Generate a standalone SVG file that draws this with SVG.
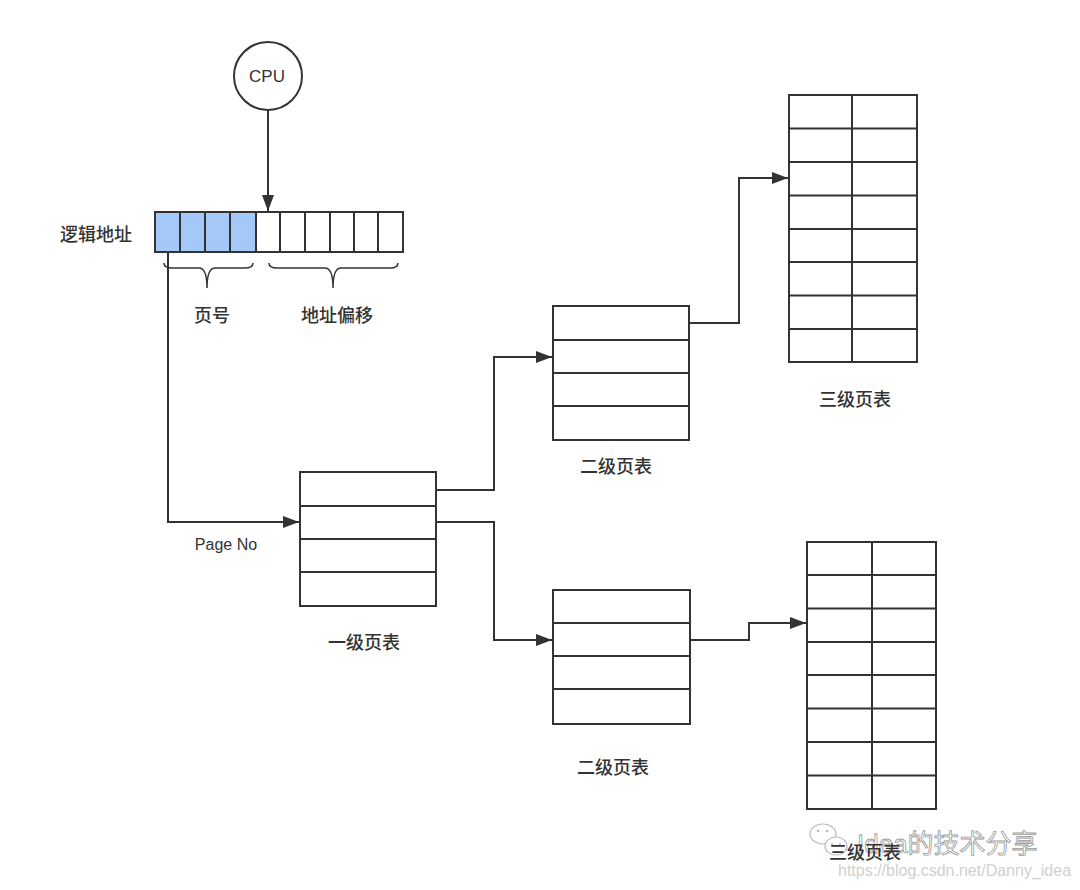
<svg xmlns="http://www.w3.org/2000/svg" width="1080" height="890" viewBox="0 0 1080 890">
<style>
.ln{fill:none;stroke:#333;stroke-width:2}
.cell{fill:#fff;stroke:#333;stroke-width:2}
.blue{fill:#a4c9f8;stroke:#333;stroke-width:2}
.lbl{font-family:"Noto Sans CJK SC","Liberation Sans",sans-serif;font-size:18px;font-weight:500;fill:#333;text-anchor:middle}
.en{font-family:"Liberation Sans",Arial,sans-serif;fill:#333;text-anchor:middle}
</style>
<defs>
<marker id="arr2" viewBox="0 0 16 12" refX="16" refY="6" markerWidth="16" markerHeight="12" markerUnits="userSpaceOnUse" orient="auto">
<path d="M0,0 L16,6 L0,12 z" fill="#333"/>
</marker>
</defs>
<rect width="1080" height="890" fill="#fff"/>

<g id="cpu">
<circle cx="268" cy="76" r="34" fill="#fff" stroke="#333" stroke-width="2"/>
<text class="en" x="267" y="82" font-size="17">CPU</text>
</g>

<g id="logical-address">
<text class="lbl" x="96" y="241">逻辑地址</text>
<rect class="blue" x="155" y="212" width="25" height="40"/>
<rect class="blue" x="180" y="212" width="25" height="40"/>
<rect class="blue" x="205" y="212" width="25" height="40"/>
<rect class="blue" x="230" y="212" width="26" height="40"/>
<rect class="cell" x="256" y="212" width="24" height="40"/>
<rect class="cell" x="280" y="212" width="25" height="40"/>
<rect class="cell" x="305" y="212" width="25" height="40"/>
<rect class="cell" x="330" y="212" width="24" height="40"/>
<rect class="cell" x="354" y="212" width="24" height="40"/>
<rect class="cell" x="378" y="212" width="25" height="40"/>
</g>

<g id="brace-page">
<path d="M164,263 Q164,268 172,268 L199,268 Q207,268 207,288 Q207,268 215,268 L245,268 Q253,268 253,263" fill="none" stroke="#333" stroke-width="1.5"/>
<text class="lbl" x="212" y="322">页号</text>
</g>

<g id="brace-offset">
<path d="M269,263 Q269,268 277,268 L325,268 Q333,268 333,288 Q333,268 341,268 L390,268 Q398,268 398,263" fill="none" stroke="#333" stroke-width="1.5"/>
<text class="lbl" x="337" y="322">地址偏移</text>
</g>

<g id="table-l1">
<rect class="cell" x="300" y="472" width="136" height="134"/>
<line class="ln" x1="300" y1="506" x2="436" y2="506"/>
<line class="ln" x1="300" y1="539" x2="436" y2="539"/>
<line class="ln" x1="300" y1="572" x2="436" y2="572" stroke-width="2.5"/>
<text class="lbl" x="364" y="649">一级页表</text>
</g>

<g id="table-l2-top">
<rect class="cell" x="553" y="306" width="136" height="134"/>
<line class="ln" x1="553" y1="340" x2="689" y2="340"/>
<line class="ln" x1="553" y1="373" x2="689" y2="373"/>
<line class="ln" x1="553" y1="406" x2="689" y2="406" stroke-width="2.5"/>
<text class="lbl" x="616" y="473">二级页表</text>
</g>

<g id="table-l2-bottom">
<rect class="cell" x="553" y="590" width="137" height="134"/>
<line class="ln" x1="553" y1="623" x2="690" y2="623"/>
<line class="ln" x1="553" y1="656" x2="690" y2="656"/>
<line class="ln" x1="553" y1="689" x2="690" y2="689" stroke-width="2.5"/>
<text class="lbl" x="613" y="774">二级页表</text>
</g>

<g id="table-l3-top">
<rect class="cell" x="789" y="95" width="128" height="267"/>
<line class="ln" x1="852" y1="95" x2="852" y2="362"/>
<line class="ln" x1="789" y1="128.5" x2="917" y2="128.5"/>
<line class="ln" x1="789" y1="162" x2="917" y2="162"/>
<line class="ln" x1="789" y1="195.5" x2="917" y2="195.5" stroke-width="2.5"/>
<line class="ln" x1="789" y1="229" x2="917" y2="229"/>
<line class="ln" x1="789" y1="262" x2="917" y2="262"/>
<line class="ln" x1="789" y1="295.5" x2="917" y2="295.5"/>
<line class="ln" x1="789" y1="329" x2="917" y2="329" stroke-width="2.5"/>
<text class="lbl" x="855" y="406">三级页表</text>
</g>

<g id="watermark">
<ellipse cx="823" cy="834" rx="13" ry="10" fill="#fff" stroke="#bbb" stroke-width="1.2"/>
<ellipse cx="836" cy="846" rx="11" ry="9" fill="#fff" stroke="#bbb" stroke-width="1.2"/>
<circle cx="818" cy="831" r="1.3" fill="#bbb"/>
<circle cx="827" cy="831" r="1.3" fill="#bbb"/>
<circle cx="832" cy="844" r="1.1" fill="#bbb"/>
<circle cx="840" cy="844" r="1.1" fill="#bbb"/>
<text x="857" y="853" font-family="'Liberation Sans','Noto Sans CJK SC',sans-serif" font-size="26" fill="#fff" stroke="#999" stroke-width="0.8">Idea的技术分享</text>
<text x="838" y="876" font-family="'Liberation Sans',Arial,sans-serif" font-size="16" fill="#d0d0d0">https://blog.csdn.net/Danny_idea</text>
</g>

<g id="table-l3-bottom">
<rect class="cell" x="807" y="542" width="129" height="267"/>
<line class="ln" x1="872" y1="542" x2="872" y2="809"/>
<line class="ln" x1="807" y1="575" x2="936" y2="575"/>
<line class="ln" x1="807" y1="608.5" x2="936" y2="608.5"/>
<line class="ln" x1="807" y1="642" x2="936" y2="642" stroke-width="2.5"/>
<line class="ln" x1="807" y1="675" x2="936" y2="675"/>
<line class="ln" x1="807" y1="708.5" x2="936" y2="708.5"/>
<line class="ln" x1="807" y1="742" x2="936" y2="742"/>
<line class="ln" x1="807" y1="775.5" x2="936" y2="775.5" stroke-width="2.5"/>
<text class="lbl" x="865" y="859">三级页表</text>
</g>

<g id="connectors">
<path class="ln" d="M268,110 L268,211" marker-end="url(#arr2)"/>
<path class="ln" d="M168,252 L168,522 L299,522" marker-end="url(#arr2)"/>
<text class="en" x="226" y="550" font-size="16">Page No</text>
<path class="ln" d="M437,490 L494,490 L494,357 L552,357" marker-end="url(#arr2)"/>
<path class="ln" d="M437,522 L494,522 L494,640 L552,640" marker-end="url(#arr2)"/>
<path class="ln" d="M690,323 L739,323 L739,178 L788,178" marker-end="url(#arr2)"/>
<path class="ln" d="M691,640 L749,640 L749,623 L806,623" marker-end="url(#arr2)"/>
</g>
</svg>
